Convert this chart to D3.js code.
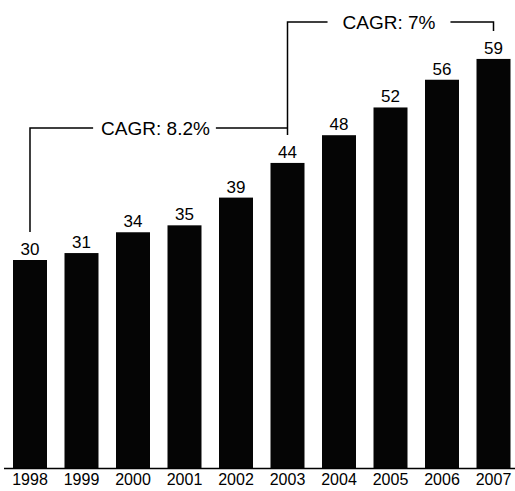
<!DOCTYPE html>
<html>
<head>
<meta charset="utf-8">
<script src="https://cdn.jsdelivr.net/npm/d3@7"></script>
<style>
  html, body { margin: 0; padding: 0; background: #fff; }
  svg { display: block; }
  text { font-family: "Liberation Sans", Arial, Helvetica, sans-serif; fill: #000; }
</style>
</head>
<body>
<svg id="chart" width="515" height="491"></svg>
<script>
const years = ["1998","1999","2000","2001","2002","2003","2004","2005","2006","2007"];
const values = [30, 31, 34, 35, 39, 44, 48, 52, 56, 59];
const cagrLabels = ["CAGR: 8.2%", "CAGR: 7%"];
const cagrSpans = [["1998","2003"], ["2003","2007"]];

const svg = d3.select("#chart");
const W = 515, H = 491;
const baseY = 468;

const x = d3.scaleBand().domain(years).range([13, 510.5]).paddingInner(0.34).paddingOuter(0);
const y = d3.scaleLinear().domain([0, 60]).range([baseY, 52]);
const cx = d => x(d) + x.bandwidth() / 2;

// bars
svg.append("g").selectAll("rect").data(values).join("rect")
  .attr("x", (d, i) => x(years[i]))
  .attr("y", d => y(d))
  .attr("width", x.bandwidth())
  .attr("height", d => baseY - y(d))
  .attr("fill", "#050505");

// value labels
svg.append("g").selectAll("text").data(values).join("text")
  .attr("x", (d, i) => cx(years[i]))
  .attr("y", d => y(d) - 5)
  .attr("text-anchor", "middle")
  .attr("font-size", 17)
  .text(d => d);

// baseline axis
const xAxis = d3.axisBottom(x).tickSize(0).tickPadding(0);
const ax = svg.append("g").attr("transform", `translate(0,${baseY})`).call(xAxis);
ax.attr("font-size", 16);
ax.select(".domain").remove();
ax.selectAll("text").attr("font-size", 16).attr("dy", null).attr("y", 17)
  .style("font-family", '"Liberation Sans", Arial, Helvetica, sans-serif').attr("fill", "#000");
svg.append("line").attr("x1", 4).attr("x2", 515).attr("y1", baseY + 0.5).attr("y2", baseY + 0.5)
  .attr("stroke", "#000").attr("stroke-width", 1.6);

// CAGR brackets
const g = svg.append("g").attr("fill", "none").attr("stroke", "#000").attr("stroke-width", 1.5);

// first bracket (1998 -> 2003)
const b1y = 128;
const x0 = cx(cagrSpans[0][0]), x1 = cx(cagrSpans[0][1]);
const t1 = svg.append("text").attr("x", 155.5).attr("y", b1y + 7).attr("text-anchor", "middle")
  .attr("font-size", 19).text(cagrLabels[0]);
const w1 = t1.node().getComputedTextLength();
g.append("path").attr("d", `M${x0},${y(values[0]) - 28}V${b1y}H${155.5 - w1 / 2 - 8}`);
g.append("path").attr("d", `M${155.5 + w1 / 2 + 6},${b1y}H${x1}`);

// second bracket (2003 -> 2007)
const b2y = 22;
const x2 = cx(cagrSpans[1][0]), x3 = cx(cagrSpans[1][1]);
const t2 = svg.append("text").attr("x", 389).attr("y", b2y + 7).attr("text-anchor", "middle")
  .attr("font-size", 19).text(cagrLabels[1]);
const w2 = t2.node().getComputedTextLength();
g.append("path").attr("d", `M${x2},${y(values[5]) - 28}V${b2y}H${389 - w2 / 2 - 15}`);
g.append("path").attr("d", `M${389 + w2 / 2 + 15},${b2y}H${x3}V${b2y + 9}`);
</script>
</body>
</html>
